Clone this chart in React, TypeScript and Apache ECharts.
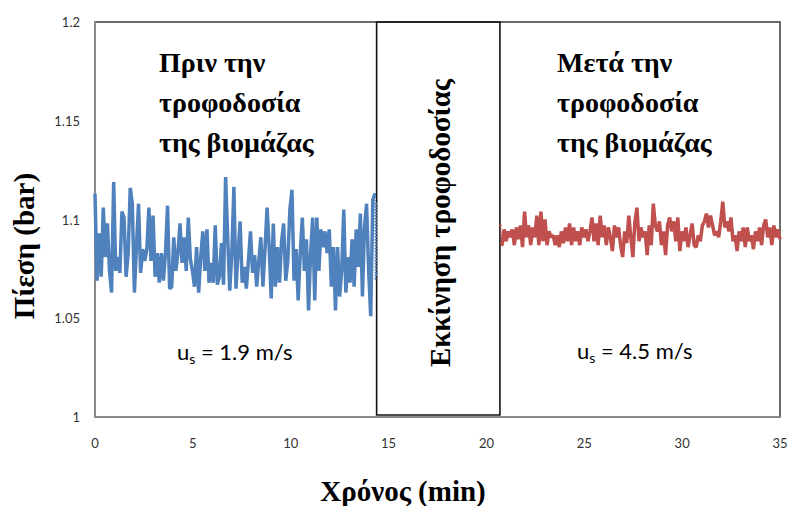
import React, { useEffect, useRef } from "react";
import * as echarts from "echarts";

// Time ranges (min) of the two recorded segments
const BLUE_START = 0;
const BLUE_END = 14.3;
const RED_START = 20.8;
const RED_END = 35;

// Pressure (bar) before biomass feeding, us = 1.9 m/s
const bluePressure = [
  1.113, 1.069, 1.093, 1.071, 1.106, 1.081, 1.098, 1.074, 1.063, 1.119, 1.074, 1.081, 1.073, 1.104, 1.101, 1.071,
  1.083, 1.116, 1.108, 1.063, 1.086, 1.108, 1.073, 1.085, 1.079, 1.085, 1.106, 1.079, 1.102, 1.071, 1.083, 1.068,
  1.083, 1.069, 1.083, 1.107, 1.065, 1.066, 1.091, 1.074, 1.083, 1.098, 1.078, 1.091, 1.074, 1.101, 1.08,
  1.074, 1.066, 1.086, 1.063, 1.081, 1.094, 1.074, 1.095, 1.068, 1.078, 1.068, 1.097, 1.067, 1.071, 1.088, 1.067,
  1.1215, 1.091, 1.064, 1.083, 1.1165, 1.065, 1.083, 1.099, 1.068, 1.076, 1.065, 1.079, 1.094, 1.073, 1.082, 1.066,
  1.079, 1.091, 1.066, 1.085, 1.106, 1.086, 1.06, 1.098, 1.066, 1.086, 1.068, 1.089, 1.098, 1.069, 1.079, 1.105,
  1.115, 1.069, 1.085, 1.059, 1.083, 1.101, 1.074, 1.09, 1.054, 1.083, 1.101, 1.059, 1.101, 1.074, 1.095, 1.086,
  1.094, 1.083, 1.095, 1.066, 1.086, 1.054, 1.086, 1.061, 1.074, 1.105, 1.063, 1.081, 1.068, 1.09, 1.066, 1.095,
  1.076, 1.103, 1.061, 1.096, 1.108, 1.074, 1.051, 1.11, 1.113,
];

// Dotted tail of the first segment
const blueTailTime = [14.3, 14.33, 14.36, 14.39];
const blueTailPressure = [1.113, 1.07, 1.108, 1.072];

// Pressure (bar) after biomass feeding, us = 4.5 m/s
const redPressure = [
  1.087, 1.095, 1.089, 1.094, 1.091, 1.095, 1.087, 1.096, 1.09, 1.097, 1.086, 1.104, 1.091, 1.097, 1.087, 1.096,
  1.091, 1.102, 1.087, 1.104, 1.089, 1.1, 1.087, 1.094, 1.091, 1.092, 1.087, 1.092, 1.086, 1.094, 1.088, 1.096,
  1.089, 1.098, 1.087, 1.096, 1.089, 1.094, 1.087, 1.096, 1.091, 1.095, 1.089, 1.094, 1.101, 1.089, 1.098, 1.087,
  1.102, 1.091, 1.097, 1.087, 1.096, 1.091, 1.084, 1.097, 1.091, 1.096, 1.087, 1.081, 1.094, 1.088, 1.102, 1.091,
  1.081, 1.099,
  1.106, 1.089, 1.096, 1.091, 1.094, 1.082, 1.097, 1.087, 1.108, 1.097, 1.094, 1.099, 1.087, 1.094, 1.082, 1.097,
  1.101, 1.094, 1.099, 1.089, 1.101, 1.084, 1.094, 1.089, 1.096, 1.086, 1.092, 1.098, 1.087, 1.086, 1.092, 1.089,
  1.097, 1.099, 1.103, 1.096, 1.102, 1.097, 1.092, 1.094, 1.091, 1.099, 1.109, 1.096, 1.099, 1.094, 1.101, 1.089,
  1.092, 1.084, 1.094, 1.089, 1.096, 1.086, 1.096, 1.089, 1.092, 1.085, 1.094, 1.089, 1.096, 1.087, 1.097, 1.1,
  1.091, 1.096, 1.087, 1.097, 1.091, 1.095, 1.09,
];

// Dotted head of the second segment
const redHeadTime = [20.72, 20.76, 20.8];
const redHeadPressure = [1.097, 1.092, 1.087];

// Feeding start window (min)
const feedStart = 14.39;
const feedEnd = 20.69;

const xTicks = { min: 0, max: 35, interval: 5 };
const yTicks = { min: 1, max: 1.2, interval: 0.05 };

const texts = {
  yName: "Πίεση (bar)",
  xName: "Χρόνος (min)",
  before: "Πριν την\nτροφοδοσία\nτης βιομάζας",
  after: "Μετά την\nτροφοδοσία\nτης βιομάζας",
  middle: "Εκκίνηση τροφοδοσίας",
  usBefore: " = 1.9 m/s",
  usAfter: " = 4.5 m/s",
};

function spread(values: number[], start: number, end: number): [number, number][] {
  const n = values.length;
  return values.map((v, i) => [start + ((end - start) * i) / (n - 1), v]);
}

function zip(t: number[], v: number[]): [number, number][] {
  return t.map((x, i) => [x, v[i]]);
}

export default function App() {
  const ref = useRef<HTMLDivElement>(null);
  useEffect(() => {
    if (!ref.current) return;
    const chart = echarts.init(ref.current, undefined, { renderer: "svg" });
    const serif = "'Liberation Serif', 'DejaVu Serif', serif";
    const sans = "Lato, 'Open Sans', sans-serif";
    const usRich = {
      a: { fontFamily: sans, fontSize: 22, color: "#333" },
      s: { fontFamily: sans, fontSize: 14, color: "#333", padding: [14, 0, 0, 0] },
    };
    chart.setOption({
      animation: false,
      grid: {
        left: 95,
        right: 12,
        top: 22,
        bottom: 89,
        show: true,
        borderColor: "#3a3a3a",
        borderWidth: 1.5,
        backgroundColor: "transparent",
      },
      xAxis: {
        type: "value",
        min: xTicks.min,
        max: xTicks.max,
        interval: xTicks.interval,
        axisLine: { show: true, lineStyle: { color: "#8a8a8a", width: 2 } },
        axisTick: { show: false },
        splitLine: { show: false },
        axisLabel: { color: "#333", fontSize: 13, fontFamily: sans, margin: 19 },
      },
      yAxis: {
        type: "value",
        min: yTicks.min,
        max: yTicks.max,
        interval: yTicks.interval,
        axisLine: { show: true, lineStyle: { color: "#8a8a8a", width: 2 } },
        axisTick: { show: false },
        splitLine: { show: false },
        axisLabel: { color: "#333", fontSize: 13, fontFamily: sans, margin: 15 },
      },
      series: [
        {
          type: "line",
          data: spread(bluePressure, BLUE_START, BLUE_END),
          showSymbol: false,
          lineStyle: { color: "#4F81BD", width: 3.5 },
          itemStyle: { color: "#4F81BD" },
          markArea: {
            silent: true,
            itemStyle: { color: "rgba(0,0,0,0)", borderColor: "#111", borderWidth: 1.6 },
            data: [[{ xAxis: feedStart, yAxis: 1.001 }, { xAxis: feedEnd, yAxis: 1.2 }]],
          },
        },
        {
          type: "line",
          data: zip(blueTailTime, blueTailPressure),
          showSymbol: true,
          symbol: "circle",
          symbolSize: 2,
          lineStyle: { color: "#4F81BD", width: 1.5, type: "dotted" },
          itemStyle: { color: "#4F81BD" },
        },
        {
          type: "line",
          data: zip(redHeadTime, redHeadPressure),
          showSymbol: true,
          symbol: "circle",
          symbolSize: 2,
          lineStyle: { color: "#C0504D", width: 1.5, type: "dotted" },
          itemStyle: { color: "#C0504D" },
        },
        {
          type: "line",
          data: spread(redPressure, RED_START, RED_END),
          showSymbol: false,
          lineStyle: { color: "#C0504D", width: 3.5 },
          itemStyle: { color: "#C0504D" },
        },
      ],
      graphic: [
        {
          type: "text",
          x: 24,
          y: 246,
          rotation: Math.PI / 2,
          style: {
            text: texts.yName,
            font: `bold 29px ${serif}`,
            fill: "#000",
            textAlign: "center",
            textVerticalAlign: "middle",
          },
        },
        {
          type: "text",
          x: 403,
          y: 491,
          style: {
            text: texts.xName,
            font: `bold 29px ${serif}`,
            fill: "#000",
            textAlign: "center",
            textVerticalAlign: "middle",
          },
        },
        {
          type: "text",
          x: 159,
          y: 42,
          style: {
            text: texts.before,
            font: `bold 28px ${serif}`,
            lineHeight: 40,
            fill: "#000",
            textAlign: "left",
            textVerticalAlign: "top",
          },
        },
        {
          type: "text",
          x: 557,
          y: 42,
          style: {
            text: texts.after,
            font: `bold 28px ${serif}`,
            lineHeight: 40,
            fill: "#000",
            textAlign: "left",
            textVerticalAlign: "top",
          },
        },
        {
          type: "text",
          x: 440,
          y: 223,
          rotation: Math.PI / 2,
          style: {
            text: texts.middle,
            font: `bold 29px ${serif}`,
            fill: "#000",
            textAlign: "center",
            textVerticalAlign: "middle",
          },
        },
        {
          type: "text",
          x: 177,
          y: 351,
          style: {
            text: "{a|u}{s|s}{a|" + texts.usBefore + "}",
            rich: usRich,
            textAlign: "left",
            textVerticalAlign: "middle",
          },
        },
        {
          type: "text",
          x: 577,
          y: 350,
          style: {
            text: "{a|u}{s|s}{a|" + texts.usAfter + "}",
            rich: usRich,
            textAlign: "left",
            textVerticalAlign: "middle",
          },
        },
      ],
    });
    return () => chart.dispose();
  }, []);
  return <div ref={ref} style={{ width: 792, height: 506, position: "absolute", left: 0, top: 0 }} />;
}
